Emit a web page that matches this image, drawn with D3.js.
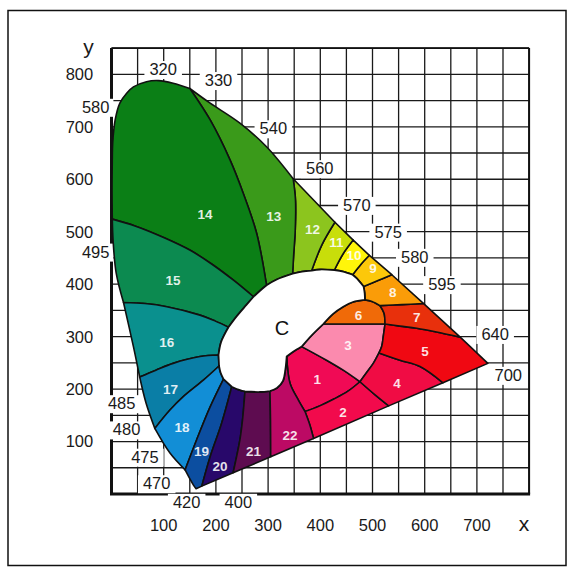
<!DOCTYPE html>
<html><head><meta charset="utf-8">
<script src="https://cdn.jsdelivr.net/npm/d3@7"></script>
<style>body{margin:0;background:#fff}</style></head>
<body><svg id="c" width="574" height="573"></svg>
<script>
// ---------- axis ticks ----------
const xTicks = [100,200,300,400,500,600,700];
const yTicks = [100,200,300,400,500,600,700,800];
const gridX = d3.range(0, 801, 50);
const gridY = d3.range(0, 851, 50);

// ---------- wavelength labels [text, x, y] ----------
const waveLabels = [
  ["320",99,810],["330",205,789],["540",310,697],["560",399,621],["570",470,551],
  ["575",530,500],["580",581,452],["595",633,400],["640",735,305],["700",760,227],
  ["485",19.5,173],["480",29,123],["475",64,71],["470",86.6,20.4],["420",144,-15],["400",243,-15]
];
const leftLabels = [["580",-4,738],["495",-4,462]];

// ---------- region names, colours, label positions ----------
const regionIds = ["1","2","3","4","5","6","7","8","9","10","11","12","13","14","15","16","17","18","19","20","21","22"];
const regionColors = ["#f00a55","#f20a4c","#fb8aae","#f00c44","#f00812","#f06a08","#e8300c","#fa9c08","#fcc80a","#fff50a","#c8de0a","#8cc51e","#3a9a1a","#0b7f16","#0c8a50","#0a908e","#0a7ea6","#128ed6","#0c4ea0","#28086a","#5e0c50","#bc0a64"];
const regionLabelX = [394,443.5,453,547,600.6,473,585,539,501,464.6,431,385,311,179,118,106,113,135,172.4,208,272,342];
const regionLabelY = [219,156,284,211.6,272.6,341,337.4,385,430.8,455.6,480.4,504,530,534,408,290,199,128,82,52.4,81,111.5];

// ---------- boundary nodes (chart units) ----------
const T_tip=[162,10], N19_18=[141,46], N18_17=[83,125], N17_16=[54,223], N16_15=[23,365], N15_14=[1.5,524];
const N14_13=[150,773], N13_12=[348,601], N12_11=[428,518], N11_10=[463,484], N10_9=[494,455];
const N9_8=[537,418], N8_7=[598,363], N7_5=[668,299], N700=[721,249];
const B19_20=[173,15], B20_21=[233,40.5], B21_22=[305,71], B22_2=[387,106], B2_4=[531,168], B4_5=[635,212];
const C15_14=[272,376], C14_13=[297,398], C13_12=[347,420], C12_11=[383.5,426], C11_10=[427,427];
const C10_9=[462,418], C9_8=[483,395.5], D0=[485.6,370], C3_1=[364.4,281], C1_22=[335.6,262];
const C22_21=[303.6,196.3], C21_20=[255.7,195.4], C20_19=[230.3,204.5], C19_18=[214.6,219];
const C18_17=[206,244], C17_16=[205,265], C16_15=[224,318];
const d1=[405.7,324], d7=[514.4,359], d9=[524,324], J=[476,214], P45=[512.4,269], N1L=[370.7,157.3];

// locus segments
const LS_5=[N700,N7_5], LS_7=[N7_5,N8_7], LS_8=[N8_7,N9_8], LS_9=[N9_8,N10_9], LS_10=[N10_9,N11_10];
const LS_11=[N11_10,N12_11], LS_12=[N12_11,N13_12];
const LS_13=[N13_12,[297,662],[246,707],[189,745],N14_13];
const LS_14=[N14_13,[118,783],[90,788],[67,786],[42,776],[29,764],[16,745],[7,713],[2.3,669],[1.5,637],[1,580],N15_14];
const LS_15=[N15_14,[3,484],[9,421],N16_15];
const LS_16=[N16_15,[42,281],N17_16];
const LS_17=[N17_16,[66,174],N18_17];
const LS_18=[N18_17,[112,78],N19_18];
const LS_19=[N19_18,[157,17],T_tip];
// purple line segments
const BS_19=[T_tip,B19_20], BS_20=[B19_20,B20_21], BS_21=[B20_21,B21_22], BS_22=[B21_22,B22_2];
const BS_2=[B22_2,B2_4], BS_4=[B2_4,B4_5], BS_5=[B4_5,N700];
// white "C" region segments
const CS_14=[C15_14,[285,388],C14_13], CS_13=[C14_13,[316.5,409],C13_12], CS_12=[C13_12,[365,424],C12_11];
const CS_11=[C12_11,[399,428],C11_10], CS_10=[C11_10,[444,424],C10_9], CS_9=[C10_9,[470,411],C9_8];
const CS_8=[C9_8,[485,383],D0];
const DomeL=[D0,[462.6,366],[444,357],[424,343],d1];
const DomeR8=[D0,[499,367],d7], DomeR7=[d7,[522,345],d9];
const CS_3=[d1,[384,303],C3_1], CS_1=[C3_1,[348,271],C1_22];
const CS_22=[C1_22,[333,236.4],[328.5,215.4],[317,202],C22_21];
const CS_21=[C22_21,[284.5,194.4],C21_20], CS_20=[C21_20,[246,198],C20_19];
const CS_19=[C20_19,C19_18], CS_18=[C19_18,[209,231],C18_17], CS_17=[C18_17,C17_16];
const CS_16=[C17_16,[210,290],C16_15], CS_15=[C16_15,[240,339],[258,360],C15_14];
// internal boundaries
const E14_13=[N14_13,[189,713],[227,637],[252.5,573],[278,497],C14_13];
const E13_12=[N13_12,[352.5,560],[352,503],[349,456],C13_12];
const E12_11=[N12_11,[403,475],C12_11];
const E11_10=[N11_10,[443.5,457.5],C11_10];
const E10_9=[N10_9,[478,438],C10_9];
const E9_8=[N9_8,[510.5,407],C9_8];
const E15_14=[N15_14,[45,511],[102,488],[150,465],[192.5,438],[233,408],C15_14];
const E16_15=[N16_15,[64,363],[106,357],[169.5,341],[198,330],C16_15];
const E17_16=[N17_16,[85,236],[118,249],[169.5,262],C17_16];
const E18_17=[N18_17,[112,160],[137.5,185.5],[176,217],C18_17];
const E19_18=[N19_18,[163,103],[189,166],C19_18];
const E20_19=[B19_20,[189,71],[211,135],C20_19];
const E21_20=[B20_21,[246,103],[251,141],C21_20];
const E22_21=[B21_22,[304.6,141],C22_21];
const E22_2=[B22_2,[380,131.5],N1L];
const E1left=[N1L,[358,179],[342,211],C1_22];
const E3_1=[C3_1,[412,255],[444,236],J];
const E1_2=[J,[453,196],[426,181],[399,168],N1L];
const E2_4=[J,[505,189],B2_4];
const E3a=[d9,[521,303],[517.6,281],P45];
const E3b=[P45,[501.5,249],[489.5,232.6],J];
const E4_5=[P45,[552.6,255],[591,243],B4_5];
const E5_7=[d9,[552.6,320],[584.7,316],[635.6,306],N7_5];
const E8_7=[d7,[556,361],N8_7];
const E6bottom=[d1,d9];

// region outlines: [segment, reversed]
const R = (s,r)=>[s,!!r];
const regionParts = [
  [R(CS_1,1),R(E3_1),R(E1_2),R(E1left)],                                  //1
  [R(E1_2,1),R(E2_4),R(BS_2,1),R(E22_2)],                                 //2
  [R(E6bottom),R(E3a),R(E3b),R(E3_1,1),R(CS_3,1)],                        //3
  [R(E3b,1),R(E4_5),R(BS_4,1),R(E2_4,1)],                                 //4
  [R(E3a,1),R(E5_7),R(LS_5,1),R(BS_5,1),R(E4_5,1)],                       //5
  [R(DomeL,1),R(DomeR8),R(DomeR7),R(E6bottom,1)],                         //6
  [R(E8_7),R(LS_7,1),R(E5_7,1),R(DomeR7,1)],                              //7
  [R(CS_8),R(DomeR8),R(E8_7),R(LS_8),R(E9_8)],                            //8
  [R(CS_9),R(E9_8,1),R(LS_9),R(E10_9)],                                   //9
  [R(CS_10),R(E10_9,1),R(LS_10),R(E11_10)],                               //10
  [R(CS_11),R(E11_10,1),R(LS_11),R(E12_11)],                              //11
  [R(CS_12),R(E12_11,1),R(LS_12),R(E13_12)],                              //12
  [R(CS_13),R(E13_12,1),R(LS_13),R(E14_13)],                              //13
  [R(CS_14),R(E14_13,1),R(LS_14),R(E15_14)],                              //14
  [R(CS_15),R(E15_14,1),R(LS_15),R(E16_15)],                              //15
  [R(CS_16),R(E16_15,1),R(LS_16),R(E17_16)],                              //16
  [R(CS_17),R(E17_16,1),R(LS_17),R(E18_17)],                              //17
  [R(CS_18),R(E18_17,1),R(LS_18),R(E19_18)],                              //18
  [R(CS_19),R(E19_18,1),R(LS_19),R(BS_19),R(E20_19)],                     //19
  [R(CS_20),R(E20_19,1),R(BS_20),R(E21_20)],                              //20
  [R(CS_21),R(E21_20,1),R(BS_21),R(E22_21)],                              //21
  [R(CS_22),R(E22_21,1),R(BS_22),R(E22_2),R(E1left)]                      //22
];
const blobParts = [CS_14,CS_13,CS_12,CS_11,CS_10,CS_9,CS_8,DomeL,CS_3,CS_1,CS_22,CS_21,CS_20,CS_19,CS_18,CS_17,CS_16,CS_15].map(s=>R(s));

// ---------- drawing ----------
const svg = d3.select("#c");
const FONT = "'Liberation Sans', Arial, Helvetica, sans-serif";
const x = d3.scaleLinear().domain([0,800]).range([111.5,529.1]);
const y = d3.scaleLinear().domain([0,850]).range([494,48.1]);

svg.append("rect").attr("x",8).attr("y",10.5).attr("width",558).attr("height",555)
  .attr("fill","#fff").attr("stroke","#111").attr("stroke-width",1.5);

const grid = svg.append("g").attr("stroke","#1a1a1a").attr("stroke-width",1.3);
grid.selectAll(".gx").data(gridX).join("line")
  .attr("x1",d=>x(d)).attr("x2",d=>x(d)).attr("y1",y(0)).attr("y2",y(850));
grid.selectAll(".gy").data(gridY).join("line")
  .attr("y1",d=>y(d)).attr("y2",d=>y(d)).attr("x1",x(0)).attr("x2",x(800));
// frame
svg.append("line").attr("x1",x(0)).attr("x2",x(0)).attr("y1",y(850)).attr("y2",y(0)).attr("stroke","#111").attr("stroke-width",3);
svg.append("line").attr("x1",x(0)-1.5).attr("x2",x(800)+1).attr("y1",y(0)).attr("y2",y(0)).attr("stroke","#111").attr("stroke-width",3);
svg.append("line").attr("x1",x(800)).attr("x2",x(800)).attr("y1",y(850)).attr("y2",y(0)).attr("stroke","#111").attr("stroke-width",2);
svg.append("line").attr("x1",x(0)).attr("x2",x(800)).attr("y1",y(850)).attr("y2",y(850)).attr("stroke","#111").attr("stroke-width",1.8);

// labels with white boxes
function boxedText(g, t, px, py, anchor, padX){
  const txt = g.append("text").attr("x",px).attr("y",py).attr("dy","0.36em")
    .attr("text-anchor",anchor).attr("font-family",FONT).attr("font-size",16.5)
    .attr("fill","#1a1a1a").text(t);
  const b = txt.node().getBBox();
  g.insert("rect","text").attr("x",b.x-padX).attr("y",b.y+1).attr("width",b.width+2*padX).attr("height",b.height).attr("fill","#fff");
}
const lab = svg.append("g");
waveLabels.forEach(([t,vx,vy])=>boxedText(lab,t,x(vx),y(vy),"middle",5));
leftLabels.forEach(([t,vx,vy])=>boxedText(lab,t,x(vx),y(vy),"end",4));
yTicks.forEach(v=>boxedText(lab,String(v),x(-35),y(v),"end",2));
xTicks.forEach(v=>boxedText(lab,String(v),x(v),y(0)+31,"middle",2));
svg.append("text").attr("x",x(0)-23).attr("y",y(850)).attr("dy","0.3em").attr("text-anchor","middle")
  .attr("font-family",FONT).attr("font-size",21).attr("fill","#1a1a1a").text("y");
svg.append("text").attr("x",x(790)).attr("y",y(0)+31).attr("dy","0.3em").attr("text-anchor","middle")
  .attr("font-family",FONT).attr("font-size",21).attr("fill","#1a1a1a").text("x");

// regions
const lineGen = d3.line().x(d=>x(d[0])).y(d=>y(d[1])).curve(d3.curveCatmullRom.alpha(0.5));
function pathFor(parts){
  let d = "";
  parts.forEach(([pts,rev],i)=>{
    const p = rev ? pts.slice().reverse() : pts;
    const s = lineGen(p);
    d += i===0 ? s : s.replace(/^M[^CLZ]*/, "");
  });
  return d + "Z";
}
const reg = svg.append("g");
reg.selectAll("path").data(regionParts).join("path")
  .attr("d",d=>pathFor(d)).attr("fill",(d,i)=>regionColors[i])
  .attr("stroke","#111").attr("stroke-width",1.6).attr("stroke-linejoin","round");
svg.append("path").attr("d",pathFor(blobParts)).attr("fill","#fff")
  .attr("stroke","#111").attr("stroke-width",1.8).attr("stroke-linejoin","round");

// region numbers
svg.append("g").selectAll("text").data(regionIds).join("text")
  .attr("x",(d,i)=>x(regionLabelX[i])).attr("y",(d,i)=>y(regionLabelY[i])).attr("dy","0.36em")
  .attr("text-anchor","middle").attr("font-family",FONT).attr("font-weight","bold").attr("font-size",13.5)
  .attr("fill","#fff").attr("fill-opacity",0.88).text(d=>d);
svg.append("text").attr("x",x(326.6)).attr("y",y(316.4)).attr("dy","0.36em").attr("text-anchor","middle")
  .attr("font-family",FONT).attr("font-size",20).attr("fill","#111").text("C");
</script></body></html>
